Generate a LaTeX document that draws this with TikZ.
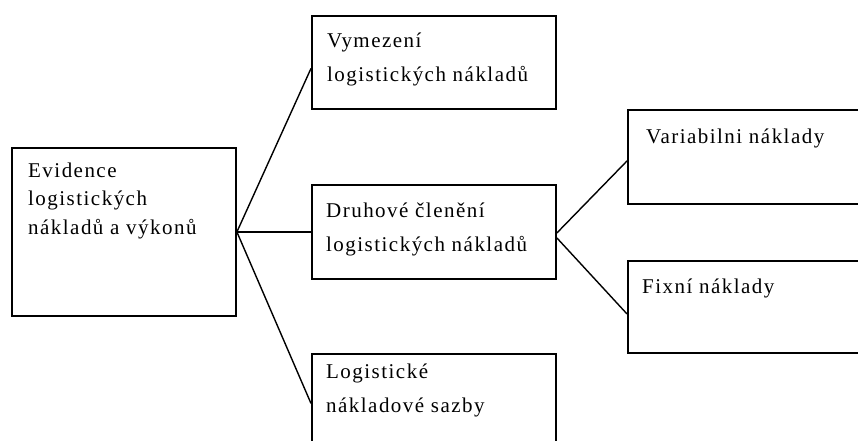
\documentclass[tikz,border=0pt]{standalone}
\usepackage{fontspec}
\setmainfont{Liberation Serif}[LetterSpace=7]
\begin{document}
\begin{tikzpicture}[x=1pt,y=-1pt,
  box/.style={draw=black, line width=1.9pt, inner sep=0pt, anchor=north west},
  txt/.style={inner sep=0pt, anchor=base west, align=left, font=\fontsize{21}{34}\selectfont},
  txttight/.style={txt, font=\fontsize{21}{28.5}\selectfont},
  conn/.style={draw=black, line width=1.4pt},
  trunk/.style={draw=black, line width=2.4pt}]
\useasboundingbox (0,0) rectangle (858,441);
\clip (0,0) rectangle (858,441);
% boxes
\node[box, minimum width=224pt, minimum height=168pt] (evid) at (11,147) {};
\node[box, minimum width=244pt, minimum height=93pt] (vym) at (311,15) {};
\node[box, minimum width=244pt, minimum height=94pt] (druh) at (311,184) {};
\node[box, minimum width=244pt, minimum height=93pt] (logn) at (311,353) {};
\node[box, minimum width=244pt, minimum height=94pt] (var) at (627,109) {};
\node[box, minimum width=244pt, minimum height=92pt] (fix) at (627,260) {};
% texts (anchored at the baseline of their last line)
\node[txttight] (evidT) at (28,234) {Evidence\\logistických\\nákladů a výkonů};
\node[txt] (vymT) at (327,82) {Vymezení\\logistických nákladů};
\node[txt] (druhT) at (326,251) {Druhové členění\\logistických nákladů};
\node[txt] (lognT) at (326,412) {Logistické\\nákladové sazby};
\node[txt] (varT) at (646,143) {Variabilni náklady};
\node[txt] (fixT) at (642,293) {Fixní náklady};
% connectors
\draw[conn] (evid.east) -- ([yshift=-6pt]vym.west);
\draw[trunk] (evid.east) -- (druh.west);
\draw[conn] (evid.east) -- ([yshift=-3pt]logn.west);
\draw[conn] ([yshift=-1pt]druh.east) -- ([yshift=-4pt]var.west);
\draw[conn] ([yshift=-6pt]druh.east) -- ([yshift=-7pt]fix.west);
\end{tikzpicture}
\end{document}
